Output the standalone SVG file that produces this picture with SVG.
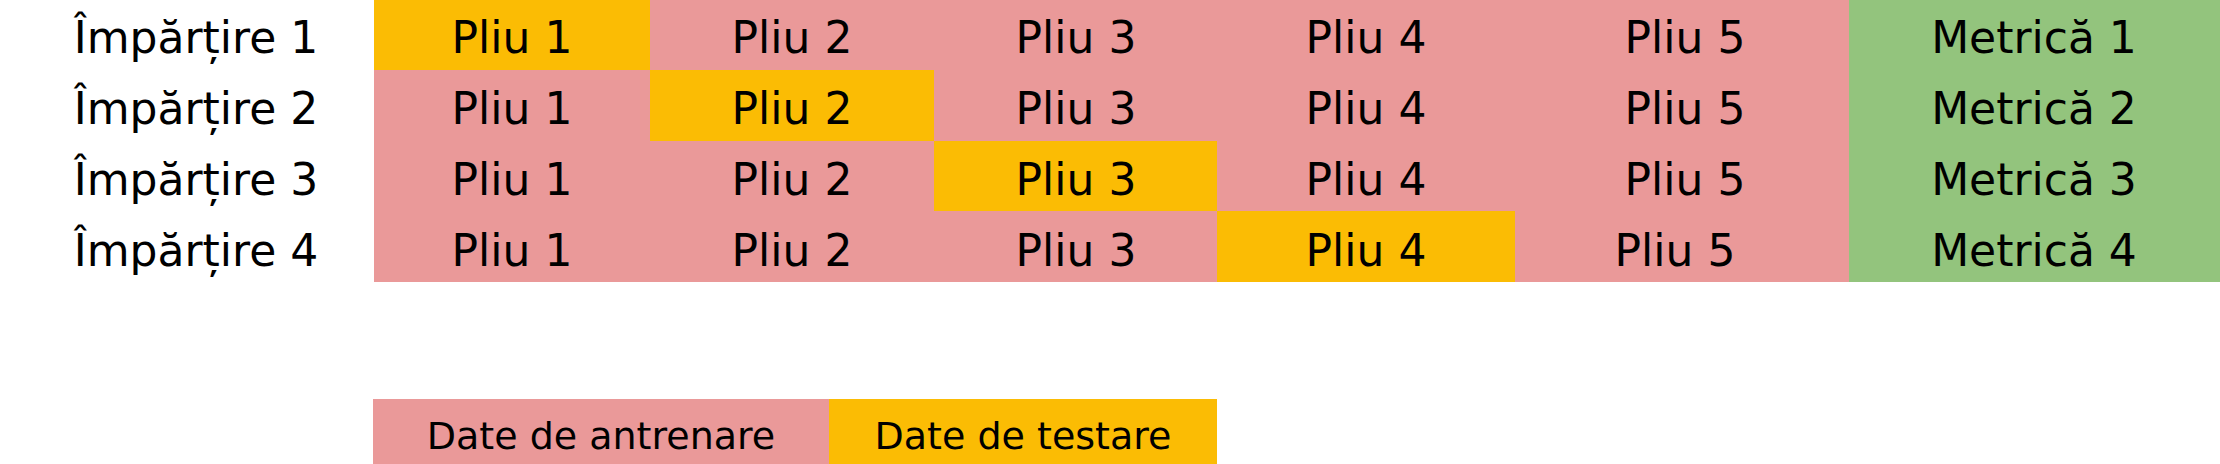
<svg xmlns="http://www.w3.org/2000/svg" width="2220" height="464" viewBox="0 0 2220 464">
<style>
rect{shape-rendering:crispEdges}
.tr{fill:#ea9999}
.te{fill:#fbbc04}
.me{fill:#93c47d}
text{font-family:"DejaVu Sans","Liberation Sans",sans-serif;fill:#000;text-anchor:middle}
.c{font-size:44px}
.l{font-size:44px}
.g{font-size:38px}
</style>
<rect width="2220" height="464" fill="#fff"/>
<g id="labels">
<text class="l" x="196" y="53">Împărțire 1</text>
<text class="l" x="196" y="124">Împărțire 2</text>
<text class="l" x="196" y="195">Împărțire 3</text>
<text class="l" x="196" y="266">Împărțire 4</text>
</g>
<g id="split1">
<rect class="te" x="374" y="0" width="276" height="70"/>
<rect class="tr" x="650" y="0" width="1199" height="70"/>
<rect class="me" x="1849" y="0" width="371" height="70"/>
<text class="c" x="512" y="53">Pliu 1</text>
<text class="c" x="792" y="53">Pliu 2</text>
<text class="c" x="1076" y="53">Pliu 3</text>
<text class="c" x="1366" y="53">Pliu 4</text>
<text class="c" x="1685" y="53">Pliu 5</text>
<text class="c" x="2034" y="53">Metrică 1</text>
</g>
<g id="split2">
<rect class="tr" x="374" y="70" width="276" height="71"/>
<rect class="te" x="650" y="70" width="284" height="71"/>
<rect class="tr" x="934" y="70" width="915" height="71"/>
<rect class="me" x="1849" y="70" width="371" height="71"/>
<text class="c" x="512" y="124">Pliu 1</text>
<text class="c" x="792" y="124">Pliu 2</text>
<text class="c" x="1076" y="124">Pliu 3</text>
<text class="c" x="1366" y="124">Pliu 4</text>
<text class="c" x="1685" y="124">Pliu 5</text>
<text class="c" x="2034" y="124">Metrică 2</text>
</g>
<g id="split3">
<rect class="tr" x="374" y="141" width="560" height="70"/>
<rect class="te" x="934" y="141" width="283" height="70"/>
<rect class="tr" x="1217" y="141" width="632" height="70"/>
<rect class="me" x="1849" y="141" width="371" height="70"/>
<text class="c" x="512" y="195">Pliu 1</text>
<text class="c" x="792" y="195">Pliu 2</text>
<text class="c" x="1076" y="195">Pliu 3</text>
<text class="c" x="1366" y="195">Pliu 4</text>
<text class="c" x="1685" y="195">Pliu 5</text>
<text class="c" x="2034" y="195">Metrică 3</text>
</g>
<g id="split4">
<rect class="tr" x="374" y="211" width="843" height="71"/>
<rect class="te" x="1217" y="211" width="298" height="71"/>
<rect class="tr" x="1515" y="211" width="334" height="71"/>
<rect class="me" x="1849" y="211" width="371" height="71"/>
<text class="c" x="512" y="266">Pliu 1</text>
<text class="c" x="792" y="266">Pliu 2</text>
<text class="c" x="1076" y="266">Pliu 3</text>
<text class="c" x="1366" y="266">Pliu 4</text>
<text class="c" x="1675" y="266">Pliu 5</text>
<text class="c" x="2034" y="266">Metrică 4</text>
</g>
<g id="legend-train">
<rect class="tr" x="373" y="399" width="456" height="65"/>
<text class="g" x="601" y="449">Date de antrenare</text>
</g>
<g id="legend-test">
<rect class="te" x="829" y="399" width="388" height="65"/>
<text class="g" x="1023" y="449">Date de testare</text>
</g>
</svg>
